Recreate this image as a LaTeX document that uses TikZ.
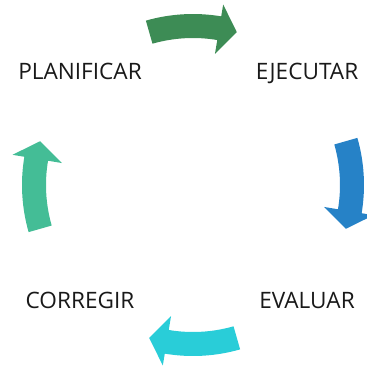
\documentclass[tikz,border=0pt]{standalone}
\usepackage{fontspec}
\setmainfont{Open Sans}
\definecolor{agreen}{RGB}{61,140,85}
\definecolor{ablue}{RGB}{38,130,199}
\definecolor{acyan}{RGB}{41,205,216}
\definecolor{ateal}{RGB}{68,189,150}
\begin{document}
\begin{tikzpicture}[x=1pt,y=1pt,
  lbl/.style={font=\fontsize{22.6}{25}\selectfont, text=black!90, inner sep=0pt, anchor=base}]
\useasboundingbox (-193,-183) rectangle (174,185);
\foreach \c/\col in {90/agreen,0/ablue,-90/acyan,180/ateal}{
  \fill[\col] ({\c+16}:171) arc[start angle={\c+16}, end angle={\c-9.5}, radius=171]
    -- ({\c-9.5}:183) -- ({\c-16}:159) -- ({\c-9.5}:133) -- ({\c-9.5}:147)
    arc[start angle={\c-9.5}, end angle={\c+16}, radius=147] -- cycle;
}
\node[lbl] (plan) at (-113,106) {PLANIFICAR};
\node[lbl] (ejec) at (114,106) {EJECUTAR};
\node[lbl] (eval) at (114,-123) {EVALUAR};
\node[lbl] (corr) at (-113,-123) {CORREGIR};
\end{tikzpicture}
\end{document}
